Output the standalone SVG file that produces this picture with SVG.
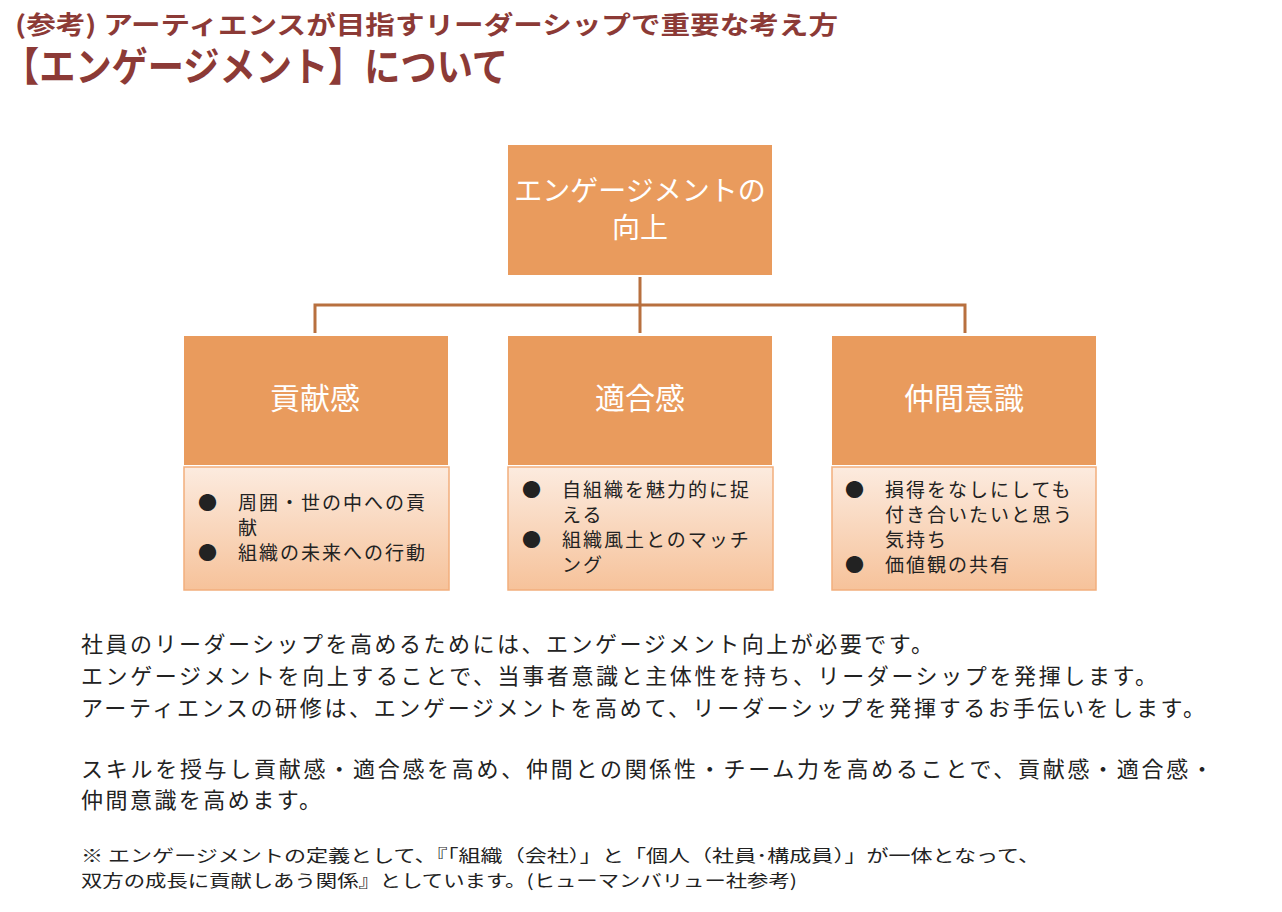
<svg xmlns="http://www.w3.org/2000/svg" width="1282" height="912" viewBox="0 0 1282 912">
<defs>
<linearGradient id="g" x1="0" y1="0" x2="0" y2="1">
<stop offset="0" stop-color="#FCEBDF"/>
<stop offset="1" stop-color="#F6C29A"/>
</linearGradient>
<style>
.t{font-family:"Noto Sans CJK JP","Noto Sans",sans-serif;fill:#8C3A36;font-weight:bold}
.box{fill:#E99B5D}
.lb{font-family:"Noto Sans CJK JP","Noto Sans",sans-serif;fill:#fff;font-size:28px;text-anchor:middle}
.lb2{font-size:30px}
.det{fill:url(#g);stroke:#F2AE7C;stroke-width:1.5}
.dt{font-family:"Noto Sans CJK JP","Noto Sans",sans-serif;fill:#222;font-size:19px;letter-spacing:2px}
.body{font-family:"Noto Sans CJK JP","Noto Sans",sans-serif;fill:#222;font-size:22px}
.fn{font-family:"Noto Sans CJK JP","Noto Sans",sans-serif;fill:#222;font-size:17px}
.con{fill:none;stroke:#B8703F;stroke-width:3}
</style>
</defs>
<rect width="1282" height="912" fill="#fff"/>
<g id="title">
<text class="t" x="15" y="34" font-size="25" textLength="823" lengthAdjust="spacingAndGlyphs">(参考) アーティエンスが目指すリーダーシップで重要な考え方</text>
<text class="t" x="3" y="81" font-size="40" textLength="505" lengthAdjust="spacingAndGlyphs">【エンゲージメント】について</text>
</g>
<g id="connectors">
<path class="con" d="M640 277 V333 M315 305 H965 M315 303.5 V333 M965 303.5 V333"/>
</g>
<g id="top">
<rect class="box" x="508" y="145" width="264" height="130"/>
<text class="lb" x="640" y="201">エンゲージメントの</text>
<text class="lb" x="640" y="238">向上</text>
</g>
<g id="koken">
<rect class="box" x="184" y="336" width="264" height="129"/>
<text class="lb lb2" x="315" y="409">貢献感</text>
<rect class="det" x="184" y="467" width="265" height="123"/>
<text class="dt" x="198" y="510">●</text>
<text class="dt" x="238" y="510">周囲・世の中への貢</text>
<text class="dt" x="238" y="535">献</text>
<text class="dt" x="198" y="560">●</text>
<text class="dt" x="238" y="560">組織の未来への行動</text>
</g>
<g id="tekigo">
<rect class="box" x="508" y="336" width="264" height="129"/>
<text class="lb lb2" x="640" y="409">適合感</text>
<rect class="det" x="508" y="467" width="265" height="123"/>
<text class="dt" x="522" y="497">●</text>
<text class="dt" x="562" y="497">自組織を魅力的に捉</text>
<text class="dt" x="562" y="522">える</text>
<text class="dt" x="522" y="547">●</text>
<text class="dt" x="562" y="547">組織風土とのマッチ</text>
<text class="dt" x="562" y="572">ング</text>
</g>
<g id="nakama">
<rect class="box" x="832" y="336" width="264" height="129"/>
<text class="lb lb2" x="964" y="409">仲間意識</text>
<rect class="det" x="832" y="467" width="264" height="123"/>
<text class="dt" x="845" y="497">●</text>
<text class="dt" x="885" y="497">損得をなしにしても</text>
<text class="dt" x="885" y="522">付き合いたいと思う</text>
<text class="dt" x="885" y="547">気持ち</text>
<text class="dt" x="845" y="572">●</text>
<text class="dt" x="885" y="572">価値観の共有</text>
</g>
<g id="body">
<text class="body" x="81" y="652" textLength="852" lengthAdjust="spacing">社員のリーダーシップを高めるためには、エンゲージメント向上が必要です。</text>
<text class="body" x="81" y="684" textLength="1076" lengthAdjust="spacing">エンゲージメントを向上することで、当事者意識と主体性を持ち、リーダーシップを発揮します。</text>
<text class="body" x="81" y="716" textLength="1124" lengthAdjust="spacing">アーティエンスの研修は、エンゲージメントを高めて、リーダーシップを発揮するお手伝いをします。</text>
<text class="body" x="81" y="777" textLength="1132" lengthAdjust="spacing">スキルを授与し貢献感・適合感を高め、仲間との関係性・チーム力を高めることで、貢献感・適合感・</text>
<text class="body" x="81" y="808" textLength="240" lengthAdjust="spacing">仲間意識を高めます。</text>
</g>
<g id="footnote">
<text class="fn" x="81" y="862" textLength="959" lengthAdjust="spacingAndGlyphs">※ エンゲージメントの定義として、『「組織（会社）」と「個人（社員･構成員）」が一体となって、</text>
<text class="fn" x="81" y="887" textLength="716" lengthAdjust="spacingAndGlyphs">双方の成長に貢献しあう関係』としています。(ヒューマンバリュー社参考)</text>
</g>
</svg>
